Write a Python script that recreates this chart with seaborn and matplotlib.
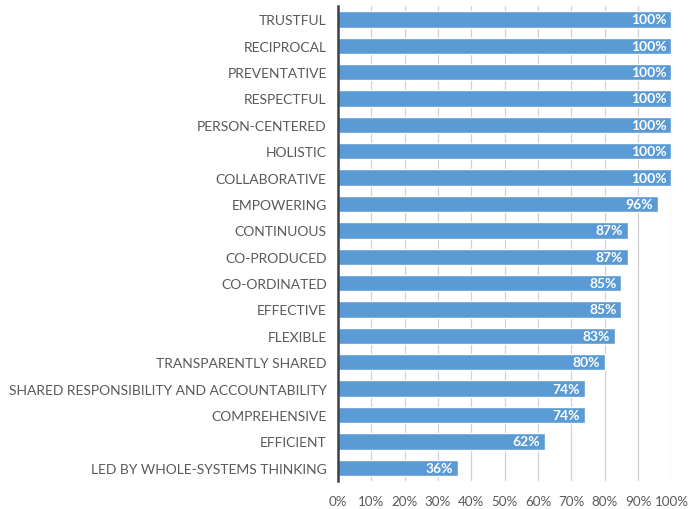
import matplotlib
matplotlib.use("Agg")
import matplotlib.pyplot as plt
import seaborn as sns
import pandas as pd

categories = [
    "TRUSTFUL", "RECIPROCAL", "PREVENTATIVE", "RESPECTFUL", "PERSON-CENTERED",
    "HOLISTIC", "COLLABORATIVE", "EMPOWERING", "CONTINUOUS", "CO-PRODUCED",
    "CO-ORDINATED", "EFFECTIVE", "FLEXIBLE", "TRANSPARENTLY SHARED",
    "SHARED RESPONSIBILITY AND ACCOUNTABILITY", "COMPREHENSIVE", "EFFICIENT",
    "LED BY WHOLE-SYSTEMS THINKING",
]
values = [100, 100, 100, 100, 100, 100, 100, 96, 87, 87, 85, 85, 83, 80, 74, 74, 62, 36]
x_ticks = [0, 10, 20, 30, 40, 50, 60, 70, 80, 90, 100]

df = pd.DataFrame({"category": categories, "value": values})

sns.set_theme(style="white")
plt.rcParams["font.family"] = ["Lato", "DejaVu Sans"]

fig = plt.figure(figsize=(6.88, 5.10), dpi=100)
ax = fig.add_axes([0.491, 0.055, 0.485, 0.931])

sns.barplot(data=df, x="value", y="category", orient="h", color="#5B9BD5",
            saturation=1, width=0.62, ax=ax, zorder=3)

ax.set_xlim(0, 100)
ax.set_xticks(x_ticks)
ax.set_xticklabels([f"{t}%" for t in x_ticks])
ax.xaxis.grid(True, color="#D0D0D0", linewidth=0.9, zorder=0)
ax.set_axisbelow(True)
ax.set_xlabel("")
ax.set_ylabel("")

for s in ["top", "right", "bottom"]:
    ax.spines[s].set_visible(False)
ax.spines["left"].set_color("#404040")
ax.spines["left"].set_linewidth(1.8)
ax.spines["left"].set_zorder(5)

ax.tick_params(axis="x", length=8, color="#D0D0D0", width=0.9, labelsize=9.6,
               labelcolor="#595959", pad=2)
ax.tick_params(axis="y", left=False, length=0, labelsize=10, labelcolor="#595959", pad=8)

for i, v in enumerate(values):
    ax.text(v - 1.5, i, f"{v}%", ha="right", va="center", color="white",
            fontsize=10, fontweight="bold", zorder=4)

fig.savefig("out.png", dpi=100)
